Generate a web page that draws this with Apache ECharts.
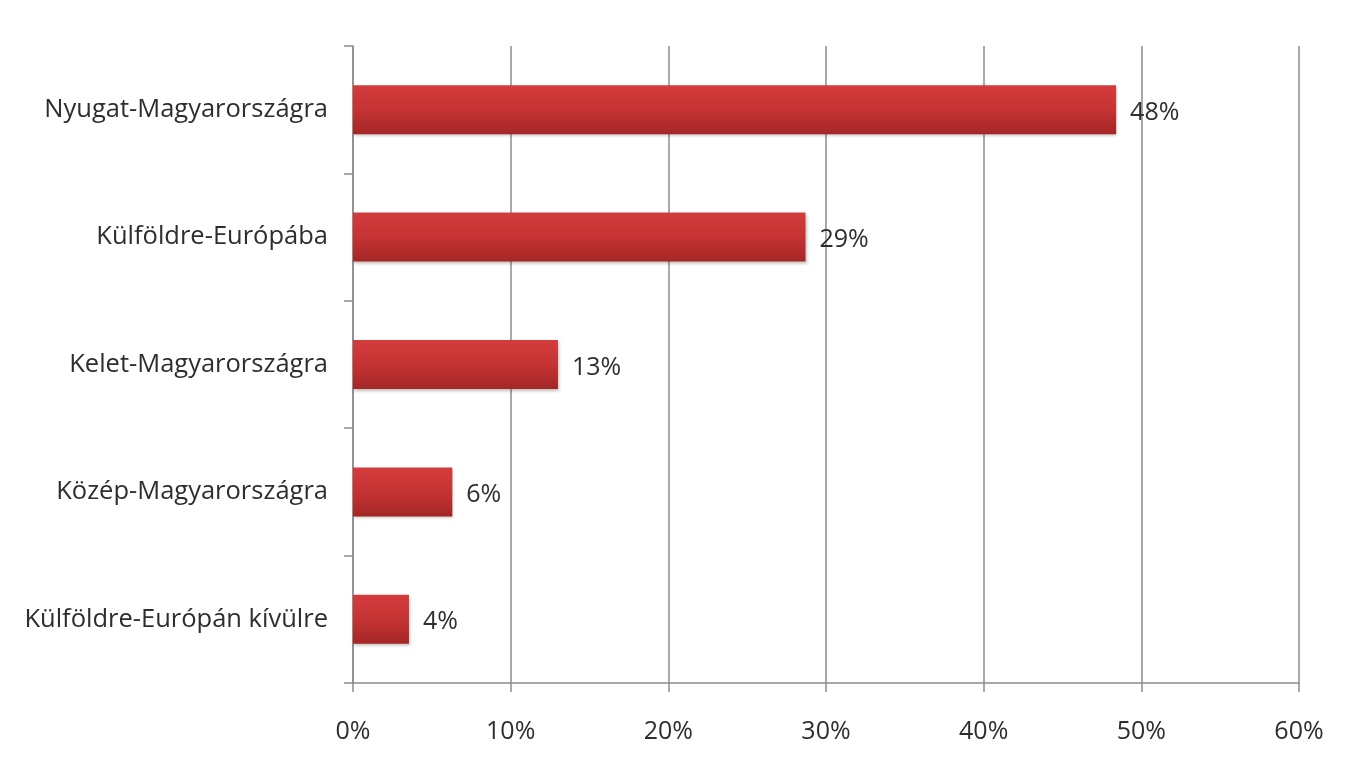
<!DOCTYPE html>
<html>
<head>
<meta charset="utf-8">
<script src="https://cdn.jsdelivr.net/npm/echarts@6/dist/echarts.min.js"></script>
<style>html,body{margin:0;padding:0;background:#fff;}#c{width:1347px;height:758px;}</style>
</head>
<body>
<div id="c"></div>
<script>
const categories = ['Nyugat-Magyarországra','Külföldre-Európába','Kelet-Magyarországra','Közép-Magyarországra','Külföldre-Európán kívülre'];
const values = [48.4, 28.7, 13.0, 6.3, 3.55];
const valueLabels = ['48%','29%','13%','6%','4%'];
const xTicks = [0,10,20,30,40,50,60];

const chart = echarts.init(document.getElementById('c'));
chart.setOption({
  animation: false,
  backgroundColor: '#fff',
  grid: {left: 353, right: 48, top: 46, bottom: 75},
  xAxis: {
    type: 'value', min: xTicks[0], max: xTicks[xTicks.length-1], interval: 10,
    axisLine: {show: true, lineStyle: {color: '#8c8c8c', width: 1.5}},
    axisTick: {show: true, length: 9, lineStyle: {color: '#8c8c8c', width: 1.5}},
    axisLabel: {margin: 36, fontSize: 25, color: '#2e2e2e', fontFamily: 'Open Sans', formatter: v => v + '%'},
    splitLine: {show: true, lineStyle: {color: '#8c8c8c', width: 1.5}}
  },
  yAxis: {
    type: 'category', data: categories, inverse: true,
    axisLine: {show: true, lineStyle: {color: '#8c8c8c', width: 1.5}},
    axisTick: {show: true, length: 9, lineStyle: {color: '#8c8c8c', width: 1.5}},
    axisLabel: {margin: 25, fontSize: 25.5, color: '#2e2e2e', fontFamily: 'Open Sans'}
  },
  series: [{
    type: 'bar', data: values, barWidth: 49,
    itemStyle: {
      color: new echarts.graphic.LinearGradient(0,0,0,1,[
        {offset: 0, color: '#d43c3c'},
        {offset: 0.5, color: '#c53333'},
        {offset: 1, color: '#a52626'}
      ]),
      shadowColor: 'rgba(0,0,0,0.25)', shadowBlur: 3, shadowOffsetX: 1, shadowOffsetY: 2
    },
    label: {
      show: true, position: 'right', distance: 14, fontSize: 25, color: '#2e2e2e', fontFamily: 'Open Sans',
      offset: [0, 3],
      formatter: p => valueLabels[p.dataIndex]
    }
  }]
});
</script>
</body>
</html>
